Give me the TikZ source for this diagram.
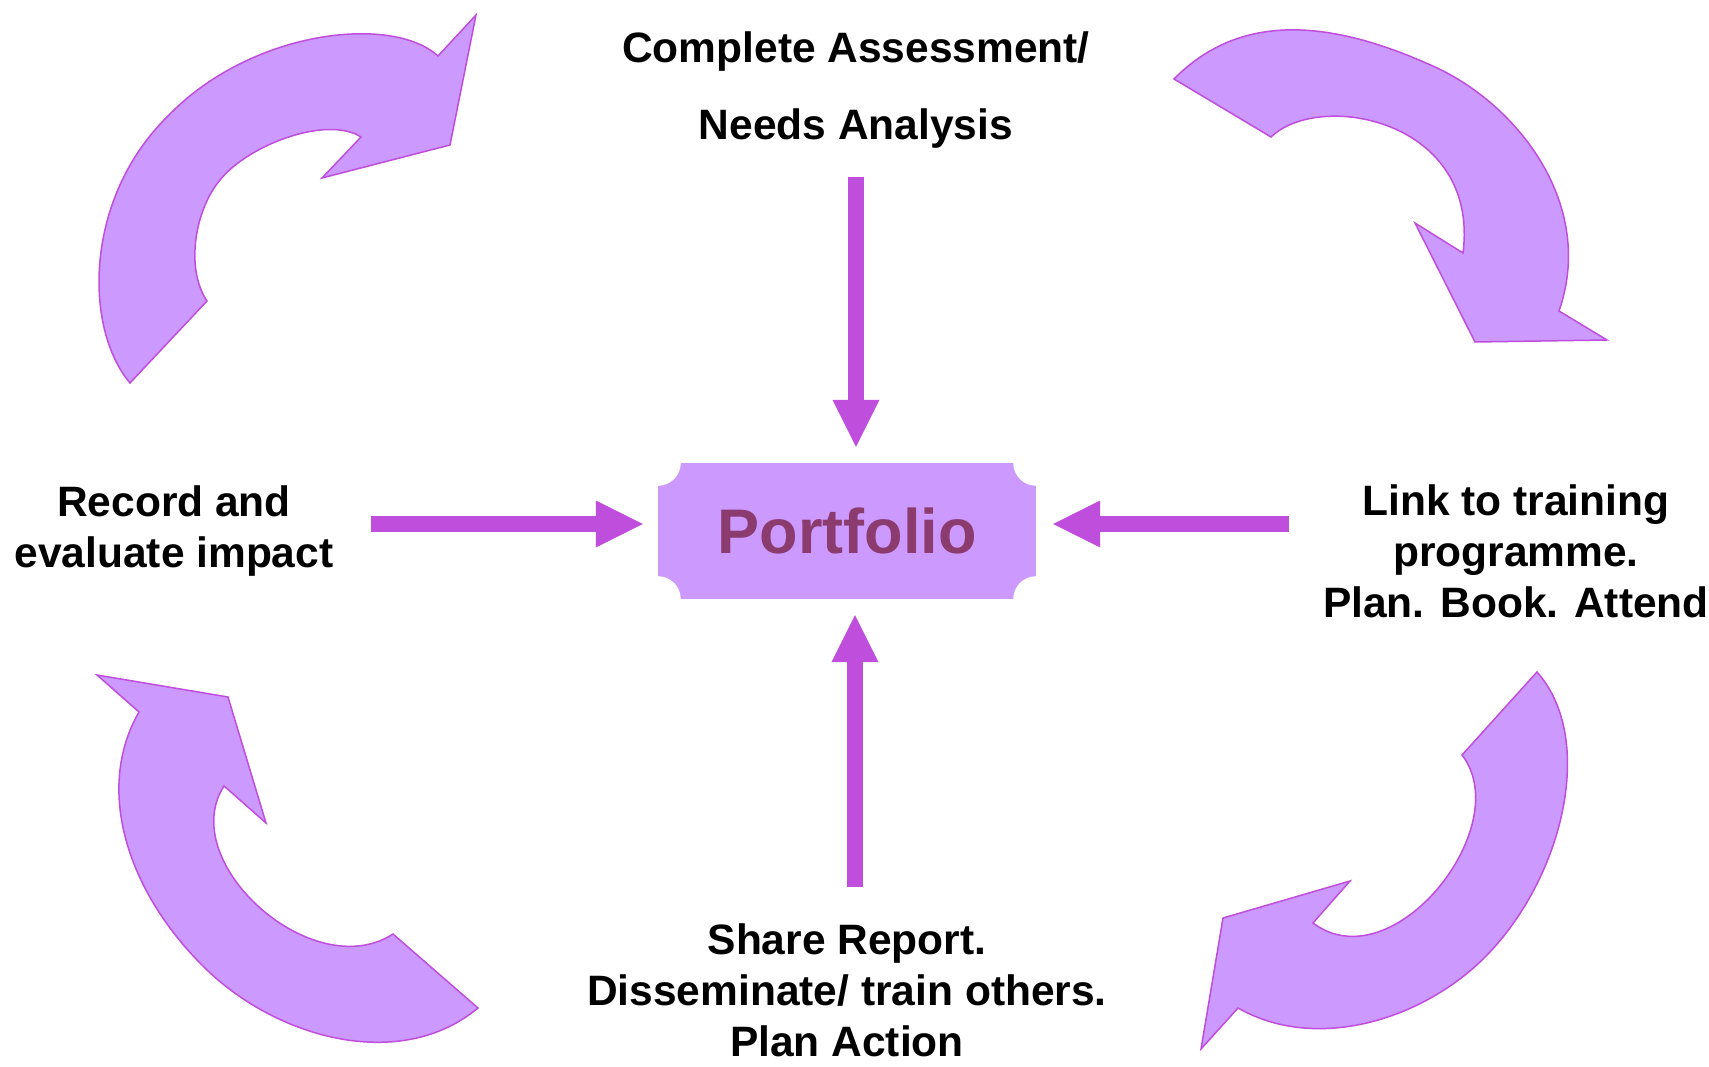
\documentclass[tikz,border=0pt]{standalone}
\usepackage{fontspec}
\setmainfont{Liberation Sans}
\usetikzlibrary{arrows.meta}
\definecolor{lilac}{RGB}{204,153,255}
\definecolor{orchid}{RGB}{191,78,221}
\definecolor{plum}{RGB}{139,59,110}
\tikzset{stage/.style={align=center,inner sep=0pt,anchor=north,font=\bfseries\fontsize{42.5}{51}\selectfont}}
\tikzset{plaque/.style={fill=lilac,minimum width=378pt,minimum height=136pt,inner sep=0pt,text=plum,font=\bfseries\fontsize{63}{70}\selectfont}}
\tikzset{push/.style={draw=orchid,line width=16pt,-{Triangle[length=47pt,width=47pt,line width=0pt]}}}
\tikzset{swirl/.style={fill=lilac,draw=orchid,line width=1.5pt,line join=miter}}
\begin{document}
\begin{tikzpicture}[x=1pt,y=-1pt]
\useasboundingbox (0,0) rectangle (1709,1067);

% centre
\node[plaque](portfolio) at (847,531) {Portfolio};
\fill[white] (portfolio.north west) circle (23pt);
\fill[white] (portfolio.north east) circle (23pt);
\fill[white] (portfolio.south west) circle (23pt);
\fill[white] (portfolio.south east) circle (23pt);

% the four steps
\node[stage,font=\bfseries\fontsize{42.5}{77}\selectfont](assess) at (856,32) {Complete Assessment/\\Needs Analysis};
\node[stage](record) at (174,486) {Record and\\evaluate impact};
\node[stage](train) at (1516,485) {Link to training\\programme.\\Plan. Book. Attend};
\node[stage](share) at (847,923) {Share Report.\\Disseminate/ train others.\\Plan Action};

\coordinate (leftin) at ([yshift=7pt]portfolio.west);
\coordinate (rightin) at ([yshift=7pt]portfolio.east);

\draw[push,shorten <=28pt,shorten >=16pt] (assess.south) -- (assess.south |- portfolio.north);
\draw[push,shorten <=36pt,shorten >=16pt] ([xshift=8pt]share.north) -- ([xshift=8pt]portfolio.south);
\draw[push,shorten <=37pt,shorten >=15pt] (leftin -| record.east) -- (leftin);
\draw[push,shorten <=34pt,shorten >=17pt] (rightin -| train.west) -- (rightin);

% cycle arrows
\filldraw[swirl] (130,383) -- (207,301)
  .. controls (185,268) and (195,210) .. (220,180)
  .. controls (248,145) and (327,115) .. (361,137)
  -- (322,178) -- (450,145) -- (476,15) -- (438,56)
  .. controls (392,14) and (250,30) .. (167,117)
  .. controls (85,198) and (83,327) .. (130,383) -- cycle;
\filldraw[swirl] (1174,79) -- (1271,137)
  .. controls (1320,90) and (1480,120) .. (1463,253)
  -- (1415,223) -- (1475,342) -- (1607,340) -- (1559,311)
  .. controls (1596,205) and (1518,105) .. (1435,67)
  .. controls (1330,19) and (1240,12) .. (1174,79) -- cycle;
\filldraw[swirl] (1537,672) -- (1462,755)
  .. controls (1517,826) and (1393,983) .. (1313,923)
  -- (1350,881) -- (1223,918) -- (1201,1049) -- (1238,1008)
  .. controls (1308,1048) and (1401,1026) .. (1465,975)
  .. controls (1556,903) and (1602,745) .. (1537,672) -- cycle;
\filldraw[swirl] (97,675) -- (228,697) -- (266,823) -- (224,786)
  .. controls (175,862) and (313,986) .. (393,934)
  -- (478,1008)
  .. controls (401,1072) and (279,1039) .. (207,970)
  .. controls (128,894) and (94,790) .. (139,712) -- cycle;
\end{tikzpicture}
\end{document}
